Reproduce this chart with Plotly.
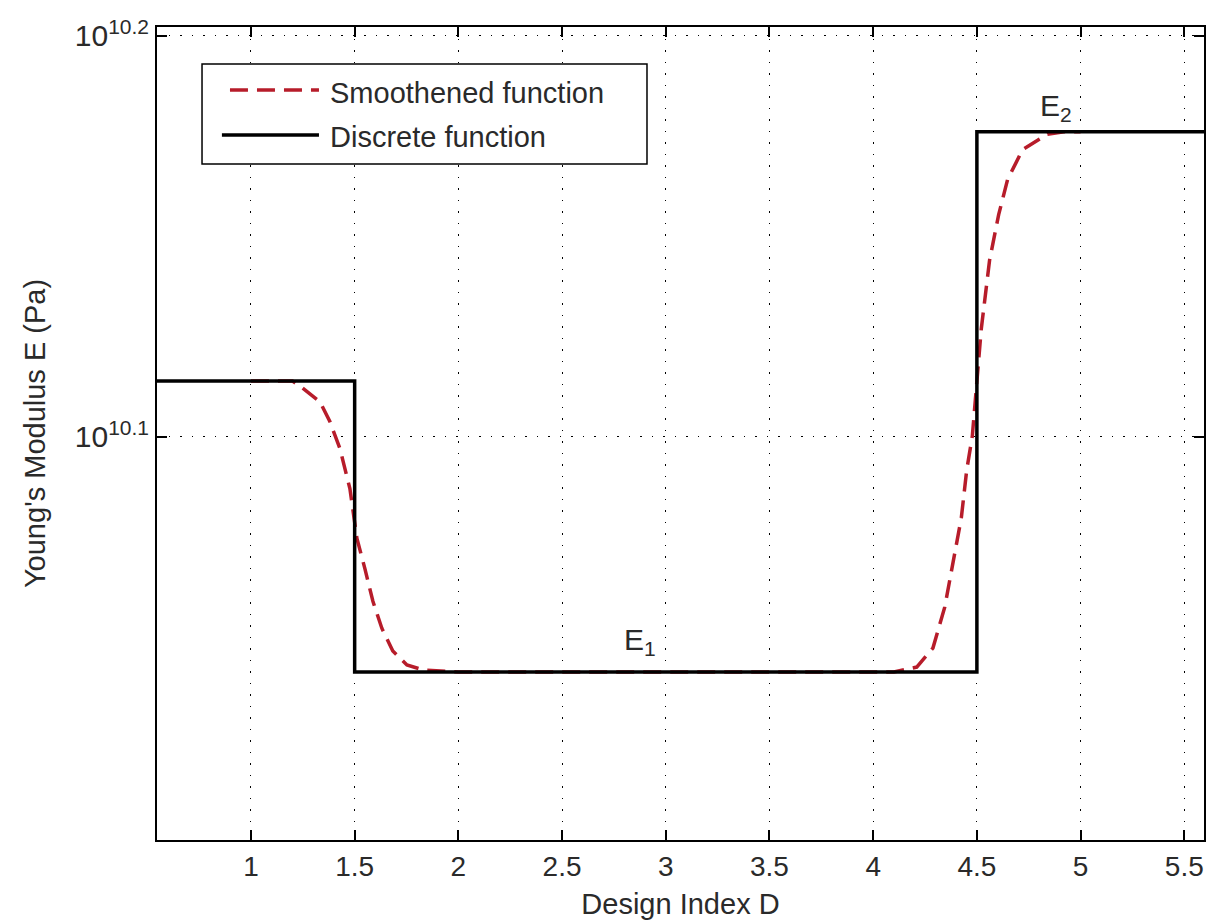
import plotly.graph_objects as go

# ---- data ----
# Discrete (step) Young's modulus
discrete_D = [0.5, 1.5, 1.5, 4.5, 4.5, 5.6]
discrete_E = [1.3e10, 1.3e10, 1.1e10, 1.1e10, 1.5e10, 1.5e10]

# Smoothened function
smooth_D = [1.0, 1.1, 1.2, 1.236, 1.333, 1.381, 1.429, 1.477, 1.511, 1.549,
            1.588, 1.631, 1.684, 1.752, 1.83, 2.0, 2.5, 3.0, 3.5, 4.0, 4.1,
            4.21, 4.288, 4.345, 4.388, 4.425, 4.451, 4.478, 4.521, 4.561,
            4.605, 4.648, 4.72, 4.84, 4.92, 5.0]
smooth_E = [1.3e10, 1.3e10, 1.3e10, 1.2963e10, 1.2845e10, 1.2699e10, 1.2505e10,
            1.2221e10, 1.1876e10, 1.1674e10, 1.1456e10, 1.1280e10, 1.1133e10,
            1.1044e10, 1.1013e10, 1.1e10, 1.1e10, 1.1e10, 1.1e10, 1.1e10, 1.1e10,
            1.1031e10, 1.1152e10, 1.1417e10, 1.1745e10, 1.2018e10, 1.2352e10,
            1.2595e10, 1.3392e10, 1.3931e10, 1.4303e10, 1.4593e10, 1.4846e10,
            1.4979e10, 1.5e10, 1.5e10]

x_ticks = [1, 1.5, 2, 2.5, 3, 3.5, 4, 4.5, 5, 5.5]
x_ticktext = ["1", "1.5", "2", "2.5", "3", "3.5", "4", "4.5", "5", "5.5"]
y_ticks = [10 ** 10.1, 10 ** 10.2]
y_ticktext = ["10<sup>10.1</sup>", "10<sup>10.2</sup>"]

series_names = ["Smoothened function", "Discrete function"]

RED = "#B71C2A"
TXT = "#2a2a2a"
FONT = "Liberation Sans, Arial, sans-serif"

fig = go.Figure()
fig.add_trace(go.Scatter(x=smooth_D, y=smooth_E, mode="lines", name=series_names[0],
                         line=dict(color=RED, width=3.5, dash="18px,9px"),
                         showlegend=False))
fig.add_trace(go.Scatter(x=discrete_D, y=discrete_E, mode="lines", name=series_names[1],
                         line=dict(color="black", width=3.5),
                         showlegend=False))

# manual legend (MATLAB style)
fig.add_shape(type="rect", xref="paper", yref="paper", x0=0.043, x1=0.468,
              y0=0.8315, y1=0.9545, line=dict(color="black", width=1.5),
              fillcolor="white", layer="above")
fig.add_shape(type="line", xref="paper", yref="paper", x0=0.0697, x1=0.1547,
              y0=0.9225, y1=0.9225, line=dict(color=RED, width=3.5, dash="18px,9px"),
              layer="above")
fig.add_shape(type="line", xref="paper", yref="paper", x0=0.062, x1=0.1547,
              y0=0.8672, y1=0.8672, line=dict(color="black", width=3.5),
              layer="above")
fig.add_annotation(xref="paper", yref="paper", x=0.1633, y=0.9188, text=series_names[0],
                   showarrow=False, xanchor="left", yanchor="middle",
                   font=dict(size=29, color=TXT))
fig.add_annotation(xref="paper", yref="paper", x=0.1633, y=0.8647, text=series_names[1],
                   showarrow=False, xanchor="left", yanchor="middle",
                   font=dict(size=29, color=TXT))

# E1 / E2 labels
fig.add_annotation(x=2.788, y=10.049, text="E<sub>1</sub>", showarrow=False,
                   xanchor="left", yanchor="middle", font=dict(size=30, color=TXT))
fig.add_annotation(x=4.793, y=10.1822, text="E<sub>2</sub>", showarrow=False,
                   xanchor="left", yanchor="middle", font=dict(size=30, color=TXT))

grid = dict(showgrid=True, gridcolor="black", gridwidth=1.3, griddash="1.5px,10px")

fig.update_xaxes(range=[0.547, 5.595], tickvals=x_ticks, ticktext=x_ticktext,
                 ticks="inside", ticklen=10, tickwidth=1.5, tickcolor="black",
                 showline=True, linecolor="black", linewidth=2, mirror="ticks",
                 zeroline=False, tickfont=dict(size=28, color=TXT), automargin=False,
                 title=dict(text="Design Index D", font=dict(size=29, color=TXT),
                            standoff=13),
                 **grid)
fig.update_yaxes(type="log", range=[9.9995, 10.2022], tickvals=y_ticks,
                 ticktext=y_ticktext, automargin=False,
                 ticks="inside", ticklen=10, tickwidth=1.5, tickcolor="black",
                 showline=True, linecolor="black", linewidth=2, mirror="ticks",
                 zeroline=False, tickfont=dict(size=30, color=TXT),
                 title=dict(text="Young's Modulus E (Pa)",
                            font=dict(size=29, color=TXT), standoff=21),
                 **grid)

fig.update_layout(width=1215, height=923,
                  margin=dict(l=157, r=11, t=27, b=83, autoexpand=False),
                  paper_bgcolor="white", plot_bgcolor="white",
                  font=dict(family=FONT, color=TXT))

fig.write_html("out.html", config={"displayModeBar": False},
               post_script="document.body.style.margin='0';"
                           "document.body.style.overflow='hidden';")
